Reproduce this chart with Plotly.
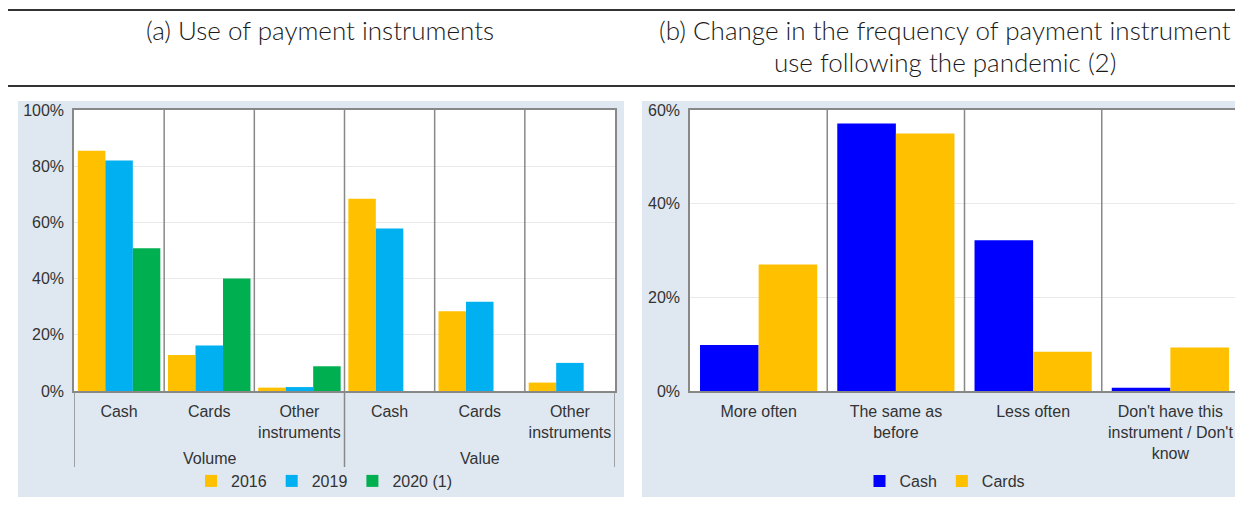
import plotly.graph_objects as go

# (a) Use of payment instruments
a_categories = ["Cash", "Cards", "Other<br>instruments", "Cash", "Cards", "Other<br>instruments"]
a_groups = ["Volume", "Value"]
a_2016 = [85.5, 12.8, 1.2, 68.4, 28.4, 3.0]
a_2019 = [82.0, 16.2, 1.4, 57.8, 31.8, 10.0]
a_2020 = [50.8, 40.0, 8.8, None, None, None]

# (b) Change in the frequency of payment instrument use following the pandemic
b_categories = ["More often", "The same as<br>before", "Less often",
                "Don't have this<br>instrument / Don't<br>know"]
b_cash = [9.8, 57.1, 32.2, 0.7]
b_cards = [27.0, 55.0, 8.4, 9.3]

W, H = 1243, 512
OFF = 8  # the page body margin shifts the figure by this much
FONT = "Liberation Sans, Arial, sans-serif"
GREY = "#888888"
BG = "#dfe8f1"


def px(x):
    return (x - OFF) / W


def py(y):
    return (H - (y - OFF)) / H


fig = go.Figure()

xa = list(range(len(a_categories)))
fig.add_trace(go.Bar(x=xa, y=a_2016, name="2016", marker_color="#FFC000",
                     xaxis="x", yaxis="y", legend="legend"))
fig.add_trace(go.Bar(x=xa, y=a_2019, name="2019", marker_color="#00B0F0",
                     xaxis="x", yaxis="y", legend="legend"))
fig.add_trace(go.Bar(x=xa, y=a_2020, name="2020 (1)", marker_color="#00B050",
                     xaxis="x", yaxis="y", legend="legend"))

xb = list(range(len(b_categories)))
fig.add_trace(go.Bar(x=xb, y=b_cash, name="Cash", marker_color="#0000FF",
                     xaxis="x2", yaxis="y2", legend="legend2",
                     width=0.427, offset=-0.427))
fig.add_trace(go.Bar(x=xb, y=b_cards, name="Cards", marker_color="#FFC000",
                     xaxis="x2", yaxis="y2", legend="legend2",
                     width=0.427, offset=0.0))

fig.update_traces(marker_line_width=0)

plot_bottom = py(391)
plot_top = py(110)

axis_common = dict(showline=True, linecolor=GREY, linewidth=1.5, mirror=True,
                   ticks="", tickfont=dict(family=FONT, size=16, color="#333333"),
                   zeroline=False, fixedrange=True, automargin=False)

fig.update_layout(
    width=W, height=H,
    autosize=False,
    margin=dict(l=0, r=0, t=0, b=0, pad=0),
    paper_bgcolor="white",
    plot_bgcolor="rgba(0,0,0,0)",
    barmode="group",
    bargap=0.085,
    bargroupgap=0,
    showlegend=True,
    xaxis=dict(domain=[px(74), px(615)], range=[-0.5, 5.5], tickvals=xa,
               ticktext=a_categories, showgrid=False, ticklabelstandoff=5,
               anchor="y", **axis_common),
    yaxis=dict(domain=[plot_bottom, plot_top], range=[0, 100], dtick=20,
               ticksuffix="%", showgrid=True, gridcolor="#e9e9e9",
               ticklabelstandoff=5, anchor="x", **axis_common),
    xaxis2=dict(domain=[px(690), px(1239)], range=[-0.5, 3.5], tickvals=xb,
                ticktext=b_categories, showgrid=False, ticklabelstandoff=5,
                anchor="y2", **axis_common),
    yaxis2=dict(domain=[plot_bottom, plot_top], range=[0, 60], dtick=20,
                ticksuffix="%", showgrid=True, gridcolor="#e9e9e9",
                ticklabelstandoff=5, anchor="x2", **axis_common),
    legend=dict(orientation="h", x=px(324), xanchor="center", y=py(481),
                yanchor="middle", bgcolor="rgba(0,0,0,0)", itemwidth=30,
                font=dict(family=FONT, size=16, color="#333333")),
    legend2=dict(orientation="h", x=px(945), xanchor="center", y=py(481),
                 yanchor="middle", bgcolor="rgba(0,0,0,0)", itemwidth=30,
                 font=dict(family=FONT, size=16, color="#333333")),
)

shapes = []
# panel backgrounds
shapes.append(dict(type="rect", xref="paper", yref="paper", x0=px(18), x1=px(624),
                   y0=py(497), y1=py(101), fillcolor=BG, line_width=0, layer="below"))
shapes.append(dict(type="rect", xref="paper", yref="paper", x0=px(642), x1=1,
                   y0=py(497), y1=py(101), fillcolor=BG, line_width=0, layer="below"))
# white plot areas
shapes.append(dict(type="rect", xref="x domain", yref="y domain", x0=0, x1=1, y0=0, y1=1,
                   fillcolor="white", line_width=0, layer="below"))
shapes.append(dict(type="rect", xref="x2 domain", yref="y2 domain", x0=0, x1=1, y0=0, y1=1,
                   fillcolor="white", line_width=0, layer="below"))

# category dividers
for i in range(len(a_categories) - 1):
    shapes.append(dict(type="line", xref="x", yref="y domain", x0=i + 0.5, x1=i + 0.5,
                       y0=0, y1=1, line=dict(color=GREY, width=1.5)))
for i in range(len(b_categories) - 1):
    shapes.append(dict(type="line", xref="x2", yref="y2 domain", x0=i + 0.5, x1=i + 0.5,
                       y0=0, y1=1, line=dict(color=GREY, width=1.5)))
# group separators below the left axis
for xv in [-0.5, 2.5, 5.5]:
    shapes.append(dict(type="line", xref="x", yref="paper", x0=xv, x1=xv,
                       y0=py(467), y1=plot_bottom, line=dict(color=GREY, width=1.5)))

# horizontal rules around titles (top one as high as the page allows)
for yv in [10, 86]:
    shapes.append(dict(type="line", xref="paper", yref="paper", x0=0, x1=1,
                       y0=py(yv), y1=py(yv), line=dict(color="#333333", width=2)))

fig.update_layout(shapes=shapes)

annotations = []
for g, xc in zip(a_groups, [1, 4]):
    annotations.append(dict(text=g, xref="x", yref="paper", x=xc, y=py(458),
                            showarrow=False, xanchor="center", yanchor="middle",
                            font=dict(family=FONT, size=16, color="#333333")))

TFONT = dict(family="Lato, Open Sans, sans-serif", size=26, color="#1a1a1a", weight=300)
annotations.append(dict(text="(a) Use of payment instruments", xref="paper", yref="paper",
                        x=px(320), y=py(30), showarrow=False,
                        xanchor="center", yanchor="middle", font=TFONT))
annotations.append(dict(text="(b) Change in the frequency of payment instrument",
                        xref="paper", yref="paper", x=px(945), y=py(30),
                        showarrow=False, xanchor="center", yanchor="middle", font=TFONT))
annotations.append(dict(text="use following the pandemic (2)",
                        xref="paper", yref="paper", x=px(945), y=py(62),
                        showarrow=False, xanchor="center", yanchor="middle", font=TFONT))
fig.update_layout(annotations=annotations)

fig.write_html("out.html")
